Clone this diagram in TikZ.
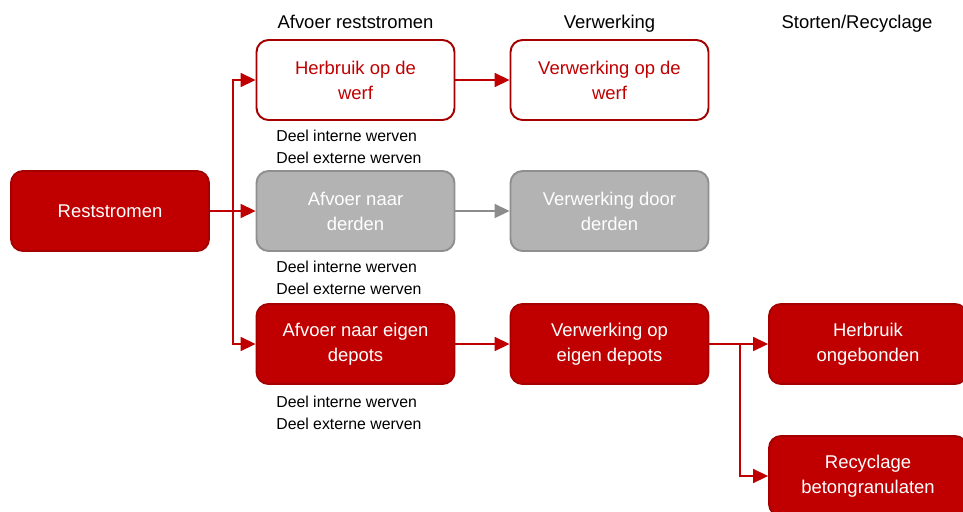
\documentclass[tikz,border=0pt]{standalone}
\usepackage{fontspec}
\setmainfont{Liberation Sans}
\usetikzlibrary{arrows.meta}
\definecolor{darkred}{HTML}{C00000}
\definecolor{edgered}{HTML}{A50000}
\definecolor{boxgrey}{HTML}{B3B3B3}
\definecolor{edgegrey}{HTML}{8F8F8F}
\definecolor{linegrey}{HTML}{8C8C8C}

\begin{document}
\begin{tikzpicture}[x=0.02cm,y=-0.02cm,
  box/.style={rounded corners=0.24cm,line width=1.1pt,minimum width=3.96cm,minimum height=1.6cm,align=center,font=\fontsize{10.5}{14.2}\selectfont},
  redbox/.style={box,fill=darkred,draw=edgered,text=white},
  whitebox/.style={box,fill=white,draw=edgered,text=darkred},
  greybox/.style={box,fill=boxgrey,draw=edgegrey,text=white},
  link/.style={-{Triangle[length=8.5pt,width=8pt]},line width=0.7pt,darkred},
  note/.style={align=left,anchor=north west,inner sep=0pt,font=\fontsize{9}{12.5}\selectfont},
  head/.style={anchor=base,inner sep=0pt,font=\fontsize{10.5}{12}\selectfont}]
\useasboundingbox (0,0) rectangle (963,511);
% column titles
\node [head] (t1) at (355.5,28) {Afvoer reststromen};
\node [head] (t2) at (609.5,28) {Verwerking};
\node [head] (t3) at (857,28) {Storten/Recyclage};
% boxes
\node [redbox] (rest) at (110,211) {Reststromen};
\node [whitebox] (herbruik) at (355.5,80) {Herbruik op de\\werf};
\node [whitebox] (verwwerf) at (609.5,80) {Verwerking op de\\werf};
\node [greybox] (derden) at (355.5,211) {Afvoer naar\\derden};
\node [greybox] (verwderden) at (609.5,211) {Verwerking door\\derden};
\node [redbox] (eigen) at (355.5,344) {Afvoer naar eigen\\depots};
\node [redbox] (verweigen) at (609.5,344) {Verwerking op\\eigen depots};
\node [redbox] (ongebonden) at (868,344) {Herbruik\\ongebonden};
\node [redbox] (granulaat) at (868,476) {Recyclage\\betongranulaten};
% notes
\node [note] (n1) at (276,130) {Deel interne werven\\Deel externe werven};
\node [note] (n2) at (276,261) {Deel interne werven\\Deel externe werven};
\node [note] (n3) at (276,396) {Deel interne werven\\Deel externe werven};
% connectors
\coordinate (fork) at (233,211);
\coordinate (fork2) at (740,344);
\draw [link] (rest) -- (derden);
\draw [link] (fork) |- (herbruik);
\draw [link] (fork) |- (eigen);
\draw [link] (herbruik) -- (verwwerf);
\draw [link,linegrey] (derden) -- (verwderden);
\draw [link] (eigen) -- (verweigen);
\draw [link] (verweigen) -- (ongebonden);
\draw [link] (fork2) |- (granulaat);
\end{tikzpicture}
\end{document}
